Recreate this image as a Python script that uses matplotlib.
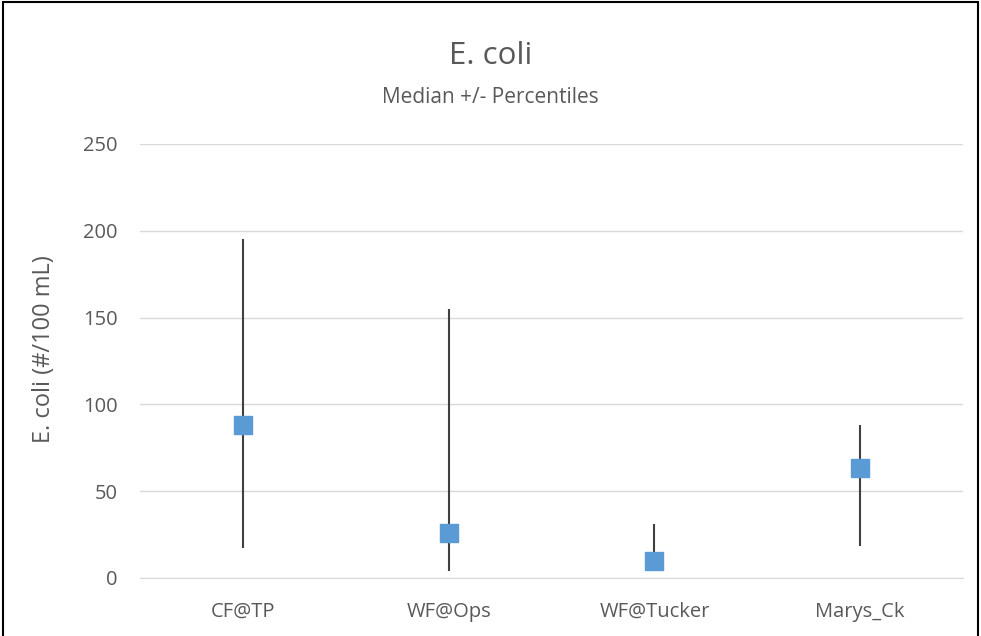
import matplotlib.pyplot as plt
from matplotlib.patches import Rectangle

sites = ['CF@TP', 'WF@Ops', 'WF@Tucker', 'Marys_Ck']
median = [88, 26, 10, 63.5]
upper = [195, 155, 31, 88]
lower = [17.5, 4, 5, 18.5]

plt.rcParams['font.family'] = ['Open Sans', 'DejaVu Sans']
grey = '#595959'

fig = plt.figure(figsize=(9.81, 6.36), dpi=100)
ax = fig.add_axes([0.1427, 0.0912, 0.839, 0.6824])

x = range(len(sites))
ax.vlines(x, lower, upper, color='#404040', linewidth=1.5, zorder=2)
ax.plot(x, median, 's', color='#5b9bd5', markersize=12.5, linestyle='none', zorder=3)

ax.set_xlim(-0.5, len(sites) - 0.5)
ax.set_ylim(0, 250)
ax.set_yticks([0, 50, 100, 150, 200, 250])
ax.set_xticks(list(x))
ax.set_xticklabels(sites)
ax.tick_params(length=0, labelsize=14.5, labelcolor=grey)
ax.tick_params(axis='x', pad=17)
ax.tick_params(axis='y', pad=16)
ax.grid(axis='y', color='#d9d9d9', linewidth=1)
ax.set_axisbelow(True)
for s in ['top', 'right', 'left']:
    ax.spines[s].set_visible(False)
ax.spines['bottom'].set_color('#d9d9d9')

ax.set_ylabel('E. coli (#/100 mL)', fontsize=17, color=grey, va='center')
ax.yaxis.set_label_coords(-0.117, 0.528)

fig.text(0.5, 0.899, 'E. coli', ha='center', va='baseline', fontsize=22.5, color=grey)
fig.text(0.5, 0.838, 'Median +/- Percentiles', ha='center', va='baseline', fontsize=15, color=grey)

fig.patches.append(Rectangle((0.003, -0.05), 0.994, 1.047, transform=fig.transFigure,
                             fill=False, edgecolor='black', linewidth=1.5))

fig.savefig('out.png', dpi=100)
